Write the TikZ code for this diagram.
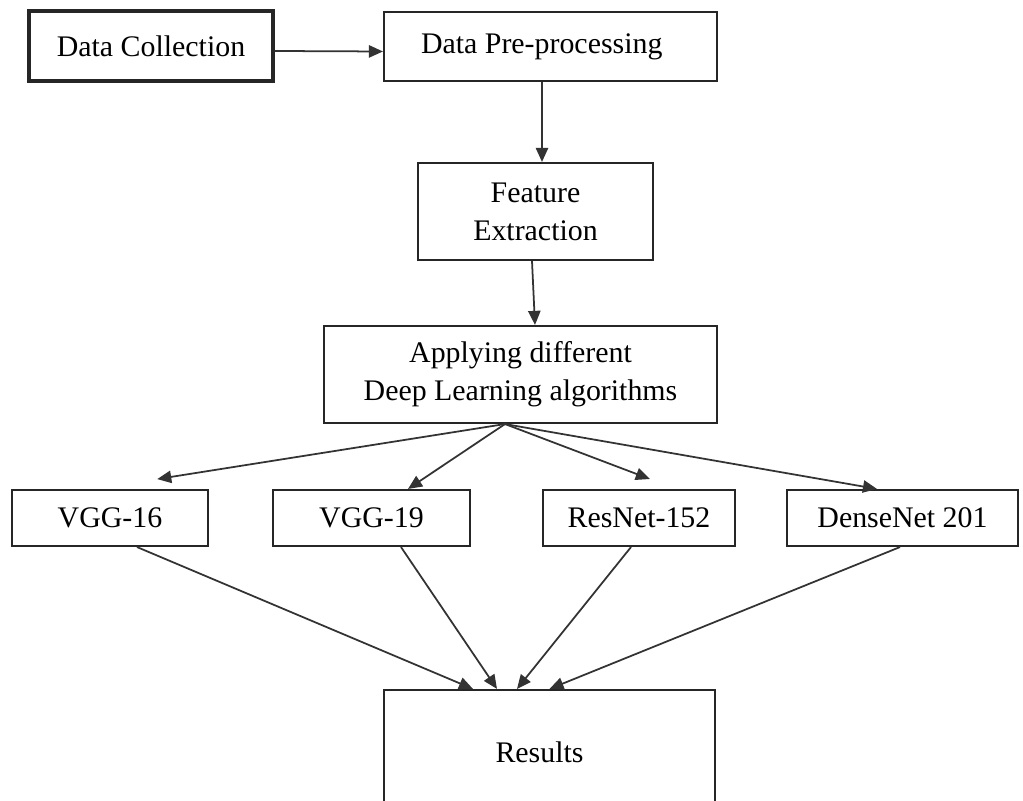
\documentclass[tikz,border=0pt]{standalone}
\usepackage{fontspec}
\setmainfont{Liberation Serif}
\usetikzlibrary{arrows.meta}
\begin{document}
\begin{tikzpicture}[
    font=\fontsize{17}{21.5}\selectfont,
    box/.style={draw=black!85, line width=1.2pt, fill=white, inner sep=0pt, align=center},
  ]
    \useasboundingbox (0,0) rectangle (20.46,16.02);

    \node[box, line width=1.8pt, minimum width=4.88cm, minimum height=1.40cm] (dc)  at ( 3.02,15.10) {Data Collection};
    \node[box, minimum width=6.66cm, minimum height=1.38cm] (dpp) at (11.01,15.09) {\hspace*{-0.35cm}Data Pre-processing};
    \node[box, minimum width=4.70cm, minimum height=1.94cm] (fe)  at (10.71,11.79) {Feature\\Extraction};
    \node[box, minimum width=7.86cm, minimum height=1.94cm] (dl)  at (10.41, 8.53) {Applying different\\Deep Learning algorithms};
    \node[box, minimum width=3.92cm, minimum height=1.12cm] (v16) at ( 2.20, 5.66) {VGG-16};
    \node[box, minimum width=3.94cm, minimum height=1.12cm] (v19) at ( 7.43, 5.66) {VGG-19};
    \node[box, minimum width=3.84cm, minimum height=1.12cm] (rn)  at (12.78, 5.66) {ResNet-152};
    \node[box, minimum width=4.62cm, minimum height=1.12cm] (dn)  at (18.05, 5.66) {DenseNet 201};
    \node[box, minimum width=6.62cm, minimum height=2.48cm] (res) at (10.99, 0.98) {\hspace*{-0.4cm}Results};

    \begin{scope}[every path/.style={draw=black!80, line width=1pt, -{Triangle[length=8pt,width=7pt]}}]
       \draw ([yshift=-0.1cm]dc.east) -- ([yshift=-0.1cm]dpp.west);
       \draw ([xshift=-0.17cm]dpp.south) -- ([xshift=0.13cm]fe.north);
       \draw ([xshift=-0.07cm]fe.south) -- ([xshift=0.29cm]dl.north);

       \draw ([xshift=-0.31cm]dl.south) -- ([xshift=-0.30cm]v16.north) [shorten >=1.26cm];
       \draw ([xshift=-0.31cm]dl.south) -- ([xshift=0.73cm]v19.north);
       \draw ([xshift=-0.31cm]dl.south) -- ([xshift=0.74cm]rn.north) [shorten >=0.56cm];
       \draw ([xshift=-0.31cm]dl.south) -- ([xshift=-0.51cm]dn.north);

       \draw ([xshift=0.54cm]v16.south) -- ([xshift=-1.53cm]res.north);
       \draw ([xshift=0.59cm]v19.south) -- ([xshift=-1.05cm]res.north);
       \draw ([xshift=-0.16cm]rn.south) -- ([xshift=-0.65cm]res.north);
       \draw ([xshift=-0.05cm]dn.south) -- (res.north);
    \end{scope}

\end{tikzpicture}
\end{document}
